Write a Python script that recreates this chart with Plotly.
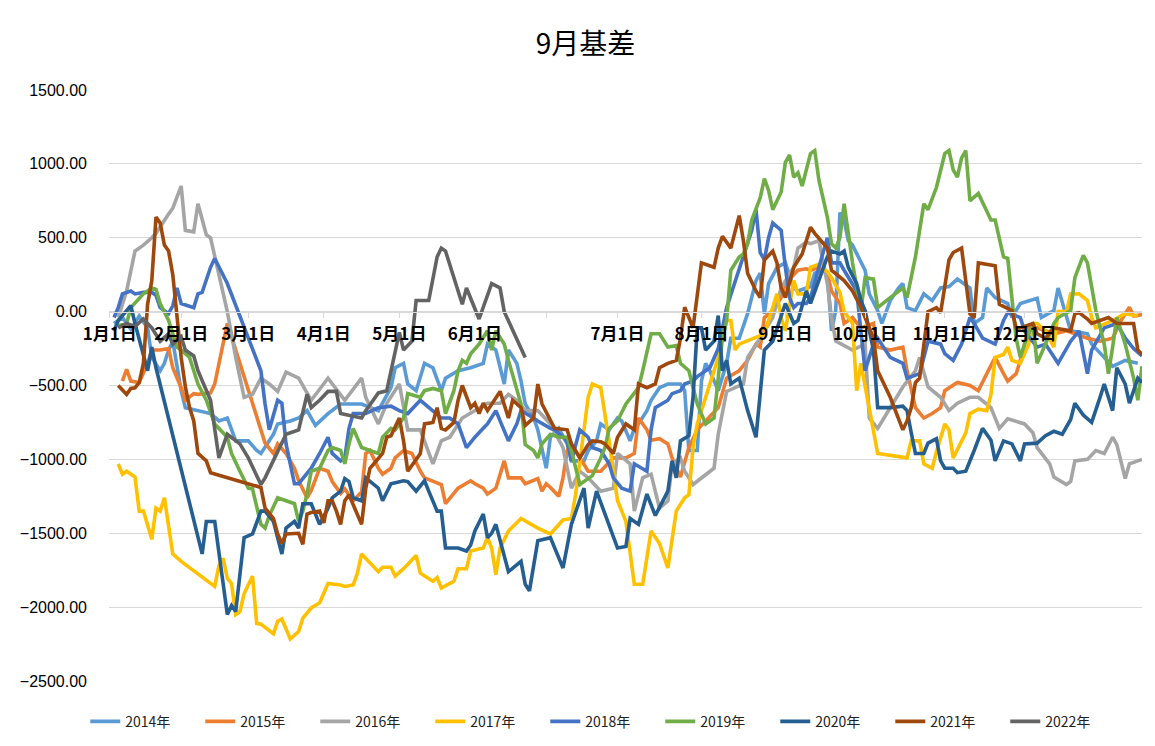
import plotly.graph_objects as go

# ---------------- data (x = trading-day index within the year) ----------------
tick_pos = [0, 17, 33, 51, 69, 87, 104, 121, 141, 161, 180, 199, 218]
tick_text = ["1月1日", "2月1日", "3月1日", "4月1日", "5月1日", "6月1日", "",
             "7月1日", "8月1日", "9月1日", "10月1日", "11月1日", "12月1日"]

x14 = [1,3,5,7,9,10,12,13,14,15,17,18,24,26,28,30,33,35,36,39,40,43,45,47,49,52,55,60,64,67,68,70,71,73,75,77,79,80,83,86,89,90,92,94,95,97,98,99,101,102,104,105,107,109,110,113,114,116,117,119,121,122,124,125,126,128,129,131,133,136,137,138,140,141,142,143,145,147,148,150,152,154,155,156,157,159,161,163,164,167,168,170,171,172,173,174,175,176,177,179,180,181,183,184,186,188,189,190,192,194,196,198,200,202,205,206,208,209,211,214,215,217,221,222,225,226,227,228,229,233,234,239,242,245]
y14 = [-80,-40,-120,-30,-110,-310,-400,-350,-260,-200,-535,-650,-690,-740,-720,-875,-875,-940,-960,-830,-760,-740,-720,-670,-770,-690,-625,-625,-670,-515,-380,-350,-490,-535,-350,-380,-535,-450,-400,-380,-350,-220,-260,-490,-260,-350,-470,-625,-720,-800,-1060,-850,-790,-895,-1010,-1010,-940,-875,-760,-800,-720,-740,-875,-790,-760,-670,-600,-515,-490,-490,-535,-940,-940,-470,-350,-400,-535,-350,-180,-180,-14,210,260,-14,190,300,330,160,140,170,260,280,260,-130,7,670,620,480,450,330,280,120,7,-80,75,160,190,27,7,120,75,160,170,220,160,-80,-40,160,95,55,-40,55,90,-40,7,160,60,-40,-130,-150,-220,-370,-330,-350]

x15 = [3,4,5,7,9,10,12,14,15,17,18,20,21,24,25,27,28,37,39,40,42,44,45,47,48,50,52,53,55,56,58,60,61,62,64,65,67,68,70,72,74,75,77,79,80,82,83,86,87,89,90,92,94,95,98,99,102,103,104,105,107,108,109,110,112,114,117,120,123,125,126,128,129,131,133,134,136,137,138,140,142,145,147,150,152,154,155,156,158,160,161,164,166,167,169,171,172,174,175,177,179,182,183,186,189,190,192,194,196,198,199,202,205,207,209,211,213,214,216,217,219,221,225,228,233,236,239,241,243,244,246]
y15 = [-470,-390,-470,-480,-350,-260,-260,-250,-380,-515,-600,-555,-560,-550,-490,-220,-80,-890,-960,-895,-960,-1060,-1145,-1260,-1210,-1060,-1080,-1150,-1230,-1200,-1280,-1220,-960,-940,-1060,-1100,-1060,-990,-940,-960,-1080,-1125,-1145,-1170,-1300,-1235,-1195,-1145,-1165,-1195,-1235,-1195,-1010,-1125,-1125,-1165,-1130,-1215,-1165,-1190,-1250,-1125,-940,-895,-990,-1080,-1080,-990,-990,-960,-720,-800,-870,-860,-895,-990,-1120,-1030,-920,-800,-740,-650,-450,-400,-330,-220,-240,-40,7,95,190,280,290,280,300,260,140,55,-80,-40,-110,-80,-240,-260,-240,-400,-650,-720,-690,-650,-535,-480,-500,-535,-420,-310,-420,-470,-420,-330,-110,-110,-150,-130,-180,-200,-180,-60,30,-30,-20]

x16 = [2,4,6,8,10,11,14,15,17,18,20,21,23,24,28,30,32,34,36,38,40,42,45,48,52,53,56,60,61,64,66,69,71,74,77,79,81,84,87,90,93,95,97,99,102,105,108,110,112,114,117,120,121,124,125,127,129,131,133,134,136,137,139,142,144,145,147,151,152,155,156,158,160,163,164,166,167,169,171,172,173,177,180,181,183,189,192,193,195,198,200,202,205,207,210,212,214,218,220,221,224,225,228,229,230,233,235,237,239,240,242,243,245,246]
y16 = [-40,140,410,450,500,530,660,700,850,550,540,730,520,500,0,-310,-580,-560,-450,-490,-540,-410,-450,-600,-450,-490,-600,-450,-580,-760,-620,-490,-800,-800,-1030,-875,-850,-720,-670,-620,-620,-560,-600,-670,-670,-760,-920,-1195,-1080,-1125,-1215,-1195,-960,-1030,-1350,-1125,-1100,-1330,-1280,-1030,-990,-1080,-1170,-1100,-1060,-830,-540,-490,-310,-180,-130,-40,160,300,430,470,460,480,190,-40,-200,-260,-220,-720,-790,-510,-400,-310,-510,-580,-670,-620,-580,-580,-650,-790,-725,-760,-820,-920,-1030,-1120,-1170,-1150,-1010,-1000,-940,-960,-850,-900,-1130,-1030,-1010,-1000]

x17 = [2,3,4,5,6,7,8,10,11,12,13,15,17,25,26,27,28,29,30,31,32,34,35,36,39,40,41,43,45,46,48,50,52,55,56,58,59,60,64,65,67,68,70,73,74,77,78,79,82,83,85,86,89,90,91,92,93,95,98,102,105,108,110,111,114,115,117,119,121,123,125,127,129,131,133,135,137,138,139,140,142,144,145,146,147,148,149,150,156,159,160,161,163,164,166,167,169,171,172,174,175,177,178,179,181,182,183,190,191,193,194,196,197,199,200,201,203,204,205,207,209,210,211,213,214,215,217,219,220,221,223,225,226,228,229,231,233,234,235,239,242,245]
y17 = [-1030,-1100,-1080,-1100,-1120,-1350,-1350,-1540,-1330,-1350,-1260,-1640,-1690,-1860,-1720,-1670,-1805,-1840,-2050,-2030,-1910,-1790,-2110,-2115,-2180,-2095,-2080,-2215,-2165,-2075,-2005,-1970,-1840,-1850,-1860,-1850,-1770,-1640,-1760,-1730,-1730,-1790,-1740,-1650,-1770,-1825,-1800,-1870,-1825,-1740,-1740,-1620,-1600,-1530,-1600,-1780,-1600,-1485,-1400,-1465,-1505,-1410,-1400,-1240,-580,-490,-515,-875,-1280,-1420,-1845,-1845,-1485,-1570,-1735,-1350,-1260,-1240,-920,-760,-580,-400,-310,-180,-60,-60,-260,-220,-150,120,-40,-130,210,120,120,300,320,270,230,130,0,-80,-535,-350,-650,-800,-960,-990,-875,-875,-1030,-1060,-950,-760,-800,-990,-875,-820,-690,-660,-670,-560,-310,-290,-240,-330,-350,-220,-80,-80,-130,-240,0,0,120,120,75,-40,-110,-60,-14,-30]

x18 = [1,2,3,5,6,8,10,11,12,14,15,16,17,19,20,21,22,24,25,28,36,37,38,40,41,42,44,45,47,48,50,52,53,55,56,57,58,61,64,67,69,71,74,76,79,81,83,85,87,89,90,92,94,95,97,98,101,102,105,106,109,110,112,114,115,117,119,120,122,124,125,128,129,130,133,134,136,137,139,140,143,145,147,150,153,154,155,156,157,158,160,161,162,163,164,166,167,169,171,172,174,175,178,179,180,182,183,186,189,190,193,195,198,199,201,203,205,206,208,211,213,214,217,218,221,223,226,229,231,233,234,237,240,242,244,246]
y18 = [-40,27,120,140,120,130,130,110,27,-14,40,160,55,40,27,120,130,300,360,190,-400,-625,-800,-600,-620,-895,-1165,-1165,-1100,-1060,-960,-850,-960,-1010,-990,-790,-690,-690,-650,-640,-670,-690,-600,-650,-720,-720,-760,-920,-850,-790,-760,-670,-800,-875,-760,-670,-720,-740,-790,-800,-875,-1010,-800,-850,-920,-940,-1030,-1125,-1195,-1215,-1030,-1080,-800,-650,-600,-555,-535,-490,-470,-440,-380,-250,27,280,550,690,400,350,500,600,550,300,95,27,55,55,95,300,500,330,330,280,140,-130,-400,-220,-180,-310,-350,-450,-420,-200,-220,-285,-330,-220,-40,-80,-180,-220,-60,-7,-40,-130,-240,-220,-350,-200,-130,-420,-260,-110,-80,-180,-250,-300]

x19 = [2,4,5,8,10,11,12,14,16,17,19,21,23,25,28,29,31,33,34,35,36,37,38,40,42,44,45,46,47,48,50,52,53,55,56,57,58,60,62,64,65,67,68,70,71,74,75,77,79,80,82,83,84,85,86,88,90,91,92,94,95,98,99,101,102,103,105,107,109,110,112,114,115,117,118,119,121,123,125,126,127,129,131,133,135,136,138,140,142,144,145,146,147,148,150,151,152,153,155,156,157,158,160,161,162,163,164,165,167,168,169,171,172,173,174,175,176,177,179,180,182,183,186,189,190,192,194,195,197,199,200,201,202,203,204,205,207,210,211,213,214,215,216,217,218,220,221,223,225,226,229,230,232,233,235,237,238,239,240,242,244,245,246]
y19 = [-95,-80,27,120,160,150,55,-60,-240,-260,-310,-490,-600,-760,-850,-960,-1080,-1195,-1200,-1330,-1440,-1465,-1380,-1260,-1280,-1300,-1420,-1350,-1235,-1080,-1060,-940,-920,-940,-1030,-895,-790,-920,-940,-960,-850,-790,-800,-720,-555,-580,-535,-520,-535,-690,-535,-400,-330,-350,-285,-220,-130,-260,-130,-220,-330,-625,-900,-940,-990,-895,-830,-850,-850,-940,-1170,-1125,-1110,-990,-920,-790,-740,-625,-555,-515,-400,-150,-150,-240,-230,-350,-400,-625,-760,-720,-450,-180,-60,280,370,390,460,620,770,900,820,690,810,1010,1060,910,940,850,1070,1090,890,640,460,430,500,730,530,330,0,230,220,27,95,160,95,370,730,690,840,1070,1090,960,910,1040,1090,750,800,620,620,370,360,95,-180,-310,-220,-80,-350,-220,-80,-40,7,230,380,330,7,-220,-420,-240,-40,-220,-450,-600,-370]

x20 = [1,2,4,5,6,9,10,11,22,23,25,28,29,30,31,32,34,36,37,39,41,42,44,45,46,48,50,52,53,55,56,57,58,60,61,64,65,67,70,71,73,75,76,78,79,80,83,85,86,87,89,90,91,92,95,98,99,100,102,105,108,110,113,114,116,118,121,123,124,126,128,130,133,134,135,136,138,139,140,141,142,144,145,146,147,148,150,152,154,156,158,161,163,164,166,167,170,171,172,174,175,176,178,179,180,182,183,186,189,190,191,192,194,195,197,198,199,201,202,204,206,208,210,211,213,215,217,218,221,223,225,227,229,230,232,234,236,237,239,240,242,243,245,246]
y20 = [-130,-60,7,40,-80,-400,-240,-380,-1640,-1420,-1420,-2050,-1990,-2030,-1780,-1530,-1505,-1350,-1350,-1420,-1640,-1465,-1420,-1465,-1300,-1300,-1440,-1330,-1260,-1215,-1130,-1150,-1260,-1280,-1125,-1195,-1280,-1165,-1145,-1150,-1215,-1145,-1215,-1350,-1350,-1600,-1600,-1620,-1580,-1485,-1370,-1530,-1500,-1440,-1760,-1690,-1845,-1890,-1550,-1530,-1735,-1440,-1195,-1465,-1215,-1370,-1600,-1590,-1400,-1440,-1235,-1380,-1215,-1010,-1125,-875,-840,-580,-110,-110,-260,-200,-27,-400,-330,-490,-450,-670,-850,-260,-200,55,-80,-60,140,55,280,370,410,390,410,300,190,75,7,-260,-650,-650,-640,-670,-820,-960,-960,-890,-860,-1010,-1060,-1060,-1090,-1080,-940,-790,-870,-1010,-875,-895,-1010,-895,-890,-840,-810,-830,-730,-620,-700,-750,-580,-490,-670,-380,-490,-620,-450,-480]

x21 = [2,4,5,6,7,8,9,10,11,12,13,14,15,16,17,18,19,20,21,23,24,36,37,39,40,41,42,45,46,47,48,50,51,52,53,54,55,56,57,60,61,62,65,66,67,69,70,71,74,75,77,78,79,80,82,83,84,86,87,88,89,90,92,93,95,96,98,99,101,102,103,105,106,109,110,112,114,115,117,118,120,121,123,125,126,128,130,131,133,135,136,137,139,141,144,145,146,148,150,151,152,154,155,156,158,159,160,161,163,165,167,168,171,172,175,177,179,180,182,183,186,189,190,191,192,193,195,197,198,200,201,203,205,206,207,211,212,215,216,217,220,221,223,225,229,230,231,233,234,238,240,242,244,245,246]
y21 = [-500,-560,-520,-515,-480,-350,50,210,640,600,450,410,250,-40,-310,-510,-650,-740,-960,-1010,-1090,-1190,-1330,-1400,-1505,-1570,-1505,-1500,-1575,-1370,-1360,-1350,-1430,-1280,-1280,-1350,-1440,-1280,-1240,-1440,-1195,-1060,-960,-850,-840,-720,-875,-1080,-960,-760,-750,-650,-790,-800,-750,-600,-500,-650,-620,-690,-620,-670,-580,-540,-720,-600,-650,-770,-720,-490,-625,-740,-790,-800,-895,-990,-900,-875,-880,-895,-960,-850,-760,-800,-490,-515,-490,-380,-350,-330,-180,30,-110,330,300,430,510,430,650,480,260,140,95,350,410,330,160,95,300,390,570,530,430,280,210,140,30,-40,-180,-400,-580,-800,-740,-650,-480,-450,0,27,-7,350,400,430,-15,-40,330,310,50,7,-110,-110,-80,-150,-180,-110,-130,-14,-7,-50,-80,-40,-80,-80,-80,-260,-290]

x22 = [2,4,6,8,10,12,14,15,17,18,20,21,24,25,26,28,31,33,36,37,40,42,45,46,47,48,50,52,54,55,60,61,64,66,67,69,70,72,73,76,78,79,80,84,85,86,88,91,93,94,99]
y22 = [-110,-80,-100,-50,-110,-200,-150,-220,-170,-260,-300,-400,-600,-800,-990,-830,-895,-990,-1170,-1125,-940,-830,-800,-670,-560,-650,-600,-540,-540,-690,-720,-670,-550,-535,-400,-140,-260,-200,75,75,370,430,410,50,160,95,-50,190,160,0,-310]

series_names = ["2014年", "2015年", "2016年", "2017年", "2018年", "2019年", "2020年", "2021年", "2022年"]
series_x = [x14, x15, x16, x17, x18, x19, x20, x21, x22]
series_y = [y14, y15, y16, y17, y18, y19, y20, y21, y22]
colors = ["#5B9BD5", "#ED7D31", "#A5A5A5", "#FFC000", "#4472C4",
          "#70AD47", "#255E91", "#9E480E", "#636363"]

# ---------------- figure ----------------
fig = go.Figure()
for name, xs, ys, c in zip(series_names, series_x, series_y, colors):
    n = min(len(xs), len(ys))
    fig.add_trace(go.Scatter(x=xs[:n], y=ys[:n], mode="lines", name=name,
                             line=dict(color=c, width=3.6)))

fig.update_layout(
    width=1155, height=746,
    margin=dict(l=101, r=21, t=82, b=73, autoexpand=False),
    paper_bgcolor="white", plot_bgcolor="white",
    title=dict(text="9月基差", x=0.5, xanchor="center", y=0.951, yref="container",
               yanchor="middle",
               font=dict(family="Noto Sans CJK SC", size=28, color="#000000")),
    showlegend=True,
    legend=dict(orientation="h", x=0.478, xanchor="center", y=-0.069,
                yanchor="middle", entrywidth=70, entrywidthmode="pixels",
                font=dict(family="Noto Sans CJK SC", size=14, color="#222222"),
                itemclick=False, tracegroupgap=0),
)

fig.update_xaxes(
    range=[-0.2, 246],
    tickmode="array", tickvals=tick_pos, ticktext=tick_text,
    anchor="free", position=0.625,
    showgrid=False, zeroline=False,
    showline=True, linecolor="#D9D9D9", linewidth=1,
    ticks="outside", ticklen=5, tickcolor="#D9D9D9",
    ticklabelstandoff=2,
    tickfont=dict(family="Noto Sans CJK SC", size=17, color="#000000", weight="bold"),
    layer="above traces",
)
fig.update_yaxes(
    range=[-2500, 1500], tickmode="linear", tick0=-2500, dtick=500,
    tickformat=".2f",
    showgrid=True, gridcolor="#D9D9D9", gridwidth=1,
    zeroline=False, showline=False, ticks="",
    ticklabelstandoff=21,
    tickfont=dict(family="Liberation Sans", size=16, color="#000000"),
)

fig.write_html("out.html")
